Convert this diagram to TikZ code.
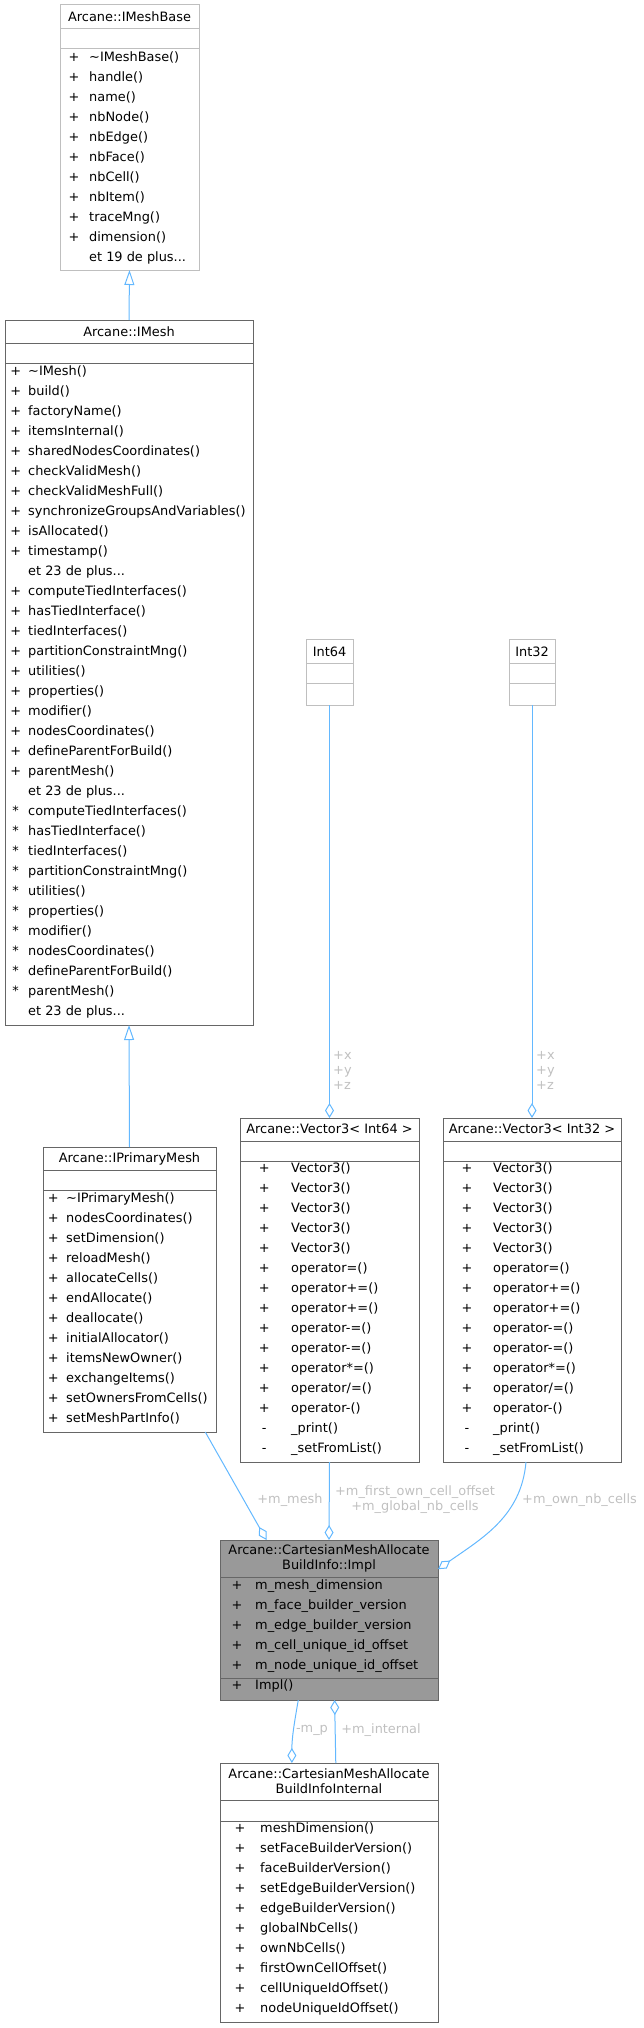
\documentclass[tikz,border=0pt]{standalone}
\usepackage{fontspec}
\setmainfont{DejaVu Sans}
\usetikzlibrary{arrows.meta,positioning}

\definecolor{edgeblue}{HTML}{63B8FF}
\definecolor{boxline}{HTML}{666666}
\definecolor{boxlight}{HTML}{BFBFBF}
\definecolor{boxfill}{HTML}{999999}
\definecolor{lblgray}{HTML}{C0C0C0}

\newcommand\moreitems[1]{et #1 de plus...}

\tikzset{
	classbox/.style={draw=boxline, line width=1pt, inner sep=0pt, outer sep=0pt, anchor=north west},
	lightbox/.style={classbox, draw=boxlight},
	sepline/.style={boxline, line width=1pt},
	seplight/.style={boxlight, line width=1pt},
	member/.style={anchor=west, inner sep=0pt, text height=9.5pt, text depth=2.5pt},
	vis/.style={inner sep=0pt, text height=9.5pt, text depth=2.5pt},
	title/.style={inner sep=0pt, align=center},
	lbl/.style={text=lblgray, inner sep=0pt, align=center},
	inherit/.style={draw=edgeblue, line width=1pt, -{Triangle[open, length=15pt, width=10pt]}},
	aggr/.style={draw=edgeblue, line width=1pt, -{Diamond[open, length=15pt, width=9pt]}},
}

\begin{document}
\begin{tikzpicture}[x=1pt, y=1pt, font=\fontsize{12.9}{15}\selectfont]
	\useasboundingbox (0,0) rectangle (644,-2028);
	
	% Arcane::IMeshBase
	\node[lightbox, minimum width=139pt, minimum height=265pt] (imeshbase) at (60,-5) {};
	\node[title] (imeshbasename) at (129.5,-17) {Arcane::IMeshBase};
	\draw[seplight] (60,-28.3) -- (199,-28.3);
	\draw[seplight] (60,-48.3) -- (199,-48.3);
	\foreach \i in {0,...,9}
		\node[vis] (imeshbase-v\i) at (74,-57.7-20*\i) {+};
	\foreach \m [count=\i from 0] in {\textasciitilde IMeshBase(), handle(), name(), nbNode(), nbEdge(), nbFace(), nbCell(), nbItem(), traceMng(), dimension(), \moreitems{19}}
		\node[member] (imeshbase-m\i) at (89,-57.7-20*\i) {\m};
	
	% Arcane::IMesh
	\node[classbox, minimum width=248pt, minimum height=705pt] (imesh) at (5,-320) {};
	\node[title] (imeshname) at (129,-332) {Arcane::IMesh};
	\draw[sepline] (5,-343) -- (253,-343);
	\draw[sepline] (5,-363) -- (253,-363);
	\foreach \i in {0,...,9,11,12,...,20}
		\node[vis] (imesh-v\i) at (15.7,-372-20*\i) {+};
	\foreach \i in {22,...,31}
		\node[vis] (imesh-v\i) at (15.7,-372-20*\i) {*};
	\foreach \m [count=\i from 0] in {\textasciitilde IMesh(), build(), factoryName(), itemsInternal(), sharedNodesCoordinates(), checkValidMesh(), checkValidMeshFull(), synchronizeGroupsAndVariables(), isAllocated(), timestamp(), \moreitems{23},
		computeTiedInterfaces(), hasTiedInterface(), tiedInterfaces(), partitionConstraintMng(), utilities(), properties(), modifier(), nodesCoordinates(), defineParentForBuild(), parentMesh(), \moreitems{23},
		computeTiedInterfaces(), hasTiedInterface(), tiedInterfaces(), partitionConstraintMng(), utilities(), properties(), modifier(), nodesCoordinates(), defineParentForBuild(), parentMesh(), \moreitems{23}}
		\node[member] (imesh-m\i) at (28,-372-20*\i) {\m};
	
	% Arcane::IPrimaryMesh
	\node[classbox, minimum width=173pt, minimum height=285pt] (iprimarymesh) at (43,-1147) {};
	\node[title] (iprimarymeshname) at (129.5,-1159) {Arcane::IPrimaryMesh};
	\draw[sepline] (43,-1170) -- (216,-1170);
	\draw[sepline] (43,-1190) -- (216,-1190);
	\foreach \i in {0,...,11}
		\node[vis] (iprimarymesh-v\i) at (53.3,-1199-20*\i) {+};
	\foreach \m [count=\i from 0] in {\textasciitilde IPrimaryMesh(), nodesCoordinates(), setDimension(), reloadMesh(), allocateCells(), endAllocate(), deallocate(), initialAllocator(), itemsNewOwner(), exchangeItems(), setOwnersFromCells(), setMeshPartInfo()}
		\node[member] (iprimarymesh-m\i) at (66,-1199-20*\i) {\m};
	
	% Int64 and Int32
	\node[lightbox, minimum width=47pt, minimum height=66pt] (int64) at (306,-639) {};
	\node[title] (int64name) at (329.5,-652) {Int64};
	\draw[seplight] (306,-663) -- (353,-663);
	\draw[seplight] (306,-683) -- (353,-683);
	\node[lightbox, minimum width=46pt, minimum height=66pt] (int32) at (509,-639) {};
	\node[title] (int32name) at (532,-652) {Int32};
	\draw[seplight] (509,-663) -- (555,-663);
	\draw[seplight] (509,-683) -- (555,-683);
	
	% Arcane::Vector3< Int64 > and Arcane::Vector3< Int32 >
	\node[classbox, minimum width=179pt, minimum height=344pt] (vec64) at (240,-1118) {};
	\node[title] (vec64name) at (329.5,-1129) {Arcane::Vector3< Int64 >};
	\draw[sepline] (240,-1141) -- (419,-1141);
	\draw[sepline] (240,-1161) -- (419,-1161);
	\node[classbox, minimum width=178pt, minimum height=344pt] (vec32) at (443,-1118) {};
	\node[title] (vec32name) at (532,-1129) {Arcane::Vector3< Int32 >};
	\draw[sepline] (443,-1141) -- (621,-1141);
	\draw[sepline] (443,-1161) -- (621,-1161);
	\foreach \x/\t/\b in {264.3/291/vec64, 467/493/vec32} {
		\foreach \i in {0,...,12}
			\node[vis] (\b-v\i) at (\x,-1169-20*\i) {+};
		\foreach \i in {13,14}
			\node[vis] (\b-v\i) at (\x,-1169-20*\i) {-};
		\foreach \m [count=\i from 0] in {Vector3(), Vector3(), Vector3(), Vector3(), Vector3(), operator=(), operator+=(), operator+=(), operator-=(), operator-=(), operator*=(), {operator/=()}, operator-(), \_print(), \_setFromList()}
			\node[member] (\b-m\i) at (\t,-1169-20*\i) {\m};
	}
	
	% Arcane::CartesianMeshAllocateBuildInfo::Impl
	\node[classbox, fill=boxfill, minimum width=218pt, minimum height=160pt] (impl) at (220,-1540) {};
	\node[title] (implname) at (329,-1558.5) {Arcane::CartesianMeshAllocate\\BuildInfo::Impl};
	\draw[sepline] (220,-1577) -- (438,-1577);
	\draw[sepline] (220,-1678) -- (438,-1678);
	\foreach \m [count=\i from 0] in {m\_mesh\_dimension, m\_face\_builder\_version, m\_edge\_builder\_version, m\_cell\_unique\_id\_offset, m\_node\_unique\_id\_offset} {
		\node[vis] (impl-v\i) at (237,-1586-20*\i) {+};
		\node[member] (impl-m\i) at (255,-1586-20*\i) {\m};
	}
	\node[vis] (impl-v5) at (237,-1686) {+};
	\node[member] (impl-m5) at (255,-1686) {Impl()};
	
	% Arcane::CartesianMeshAllocateBuildInfoInternal
	\node[classbox, minimum width=218pt, minimum height=259pt] (internal) at (220,-1763) {};
	\node[title] (internalname) at (329,-1781.5) {Arcane::CartesianMeshAllocate\\BuildInfoInternal};
	\draw[sepline] (220,-1800) -- (438,-1800);
	\draw[sepline] (220,-1821) -- (438,-1821);
	\foreach \m [count=\i from 0] in {meshDimension(), setFaceBuilderVersion(), faceBuilderVersion(), setEdgeBuilderVersion(), edgeBuilderVersion(), globalNbCells(), ownNbCells(), firstOwnCellOffset(), cellUniqueIdOffset(), nodeUniqueIdOffset()} {
		\node[vis] (internal-v\i) at (240,-1829-20*\i) {+};
		\node[member] (internal-m\i) at (260,-1829-20*\i) {\m};
	}
	
	% inheritance
	\draw[inherit] (imesh.north) -- (imeshbase.south);
	\draw[inherit] (iprimarymesh.north) -- (imesh.south);
	
	% members
	\draw[aggr] (int64.south) -- (vec64.north);
	\node[lbl, align=left, anchor=west] (int64lbl) at (333,-1070.5) {+x\\+y\\+z};
	\draw[aggr] (int32.south) -- (vec32.north);
	\node[lbl, align=left, anchor=west] (int32lbl) at (536,-1070.5) {+x\\+y\\+z};
	
	\draw[aggr] (iprimarymesh.-62.7) -- (impl.128.7);
	\node[lbl] (meshlbl) at (290,-1500) {+m\_mesh};
	\draw[aggr] (vec64.south) -- (impl.north);
	\node[lbl] (offsetlbl) at (415,-1500) {+m\_first\_own\_cell\_offset\\+m\_global\_nb\_cells};
	\draw[aggr] (vec32.-92.3) to[out=-95, in=35] (impl.25.1);
	\node[lbl] (ownlbl) at (579.5,-1500) {+m\_own\_nb\_cells};
	
	\draw[aggr] (impl.-111.8) to[out=-100, in=90] (internal.106.8);
	\node[lbl] (mplbl) at (312,-1730) {-m\_p};
	\draw[aggr] (internal.87.8) -- (impl.-86.4);
	\node[lbl] (internallbl) at (381,-1730) {+m\_internal};
\end{tikzpicture}
\end{document}
